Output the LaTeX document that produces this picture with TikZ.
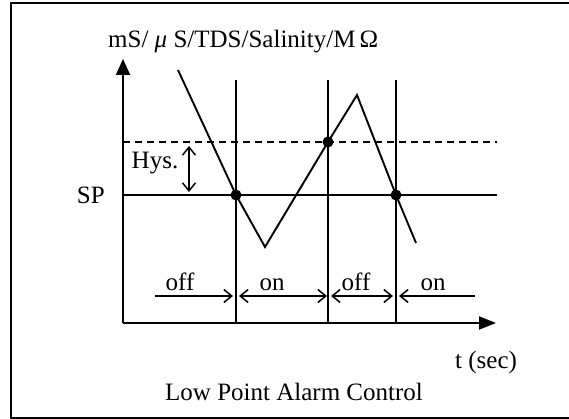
\documentclass[tikz,border=0pt]{standalone}
\usepackage{fontspec}
\setmainfont{Liberation Serif}
\usetikzlibrary{arrows.meta}
\begin{document}
\begin{tikzpicture}[x=1pt,y=-1pt,
  lbl/.style={font=\fontsize{25}{30}\selectfont, inner sep=0pt},
  ln/.style={line width=1.9pt},
  barb/.style={line width=1.5pt, arrows={-{Straight Barb[length=8pt,width=13pt]}}},
  dbarb/.style={line width=1.5pt, arrows={{Straight Barb[length=8pt,width=13pt]}-{Straight Barb[length=8pt,width=13pt]}}},
  lbarb/.style={line width=1.5pt, arrows={{Straight Barb[length=8pt,width=13pt]}-}},
  dot/.style={circle, fill=black, inner sep=0pt, minimum size=11pt}]
\useasboundingbox (0,0) rectangle (569,419);
% frame
\draw[line width=2.2pt] (569,3) -- (11,3) -- (11,418) -- (569,418);
% axes
\coordinate (O) at (123,323);
\coordinate (Ytip) at (123,59);
\coordinate (Xtip) at (496,323);
\draw[ln,-{Triangle[length=16pt,width=14pt]}] (O) -- (Ytip);
\draw[ln,-{Triangle[length=17pt,width=13pt]}] (O) -- (Xtip);
% set point and hysteresis lines
\coordinate (SPl) at (123,195); \coordinate (SPr) at (497,195);
\draw[ln] (SPl) -- (SPr);
\coordinate (Hl) at (123,142); \coordinate (Hr) at (497,142);
\draw[ln, dash pattern=on 7pt off 5pt] (Hl) -- (Hr);
% vertical switching lines
\coordinate (V1t) at (236,80); \coordinate (V1b) at (236,323);
\coordinate (V2t) at (328,80); \coordinate (V2b) at (328,323);
\coordinate (V3t) at (396,80); \coordinate (V3b) at (396,323);
\draw[ln] (V1t) -- (V1b);
\draw[ln] (V2t) -- (V2b);
\draw[ln] (V3t) -- (V3b);
% signal
\coordinate (A) at (178,70);
\coordinate (D1) at (236,195);
\coordinate (M) at (265,247);
\coordinate (D2) at (328,142);
\coordinate (P) at (357,95);
\coordinate (D3) at (396,195);
\coordinate (E) at (416,243);
\draw[ln] (A) -- (D1) -- (M) -- (D2) -- (P) -- (D3) -- (E);
\node[dot] (d1) at (D1) {};
\node[dot] (d2) at (D2) {};
\node[dot] (d3) at (D3) {};
% hysteresis arrow
\coordinate (Ht) at (189,146); \coordinate (Hb) at (189,192);
\draw[dbarb] (Ht) -- (Hb);
% state arrows
\coordinate (S0) at (155,296);
\coordinate (S1) at (236,296);
\coordinate (S2) at (328,296);
\coordinate (S3) at (396,296);
\coordinate (S4) at (475,296);
\draw[barb, shorten >=3pt] (S0) -- (S1);
\draw[dbarb, shorten <=3pt, shorten >=1pt] (S1) -- (S2);
\draw[dbarb, shorten <=3pt, shorten >=3pt] (S2) -- (S3);
\draw[lbarb, shorten <=3pt] (S3) -- (S4);
% labels
\node[lbl, anchor=base west] (ylab) at (108,48) {mS/ \textit{μ} S/TDS/Salinity/M\,Ω};
\node[lbl, anchor=east] (sp) at (105,195) {SP};
\node[lbl] (hys) at (155,163) {Hys.};
\node[lbl, anchor=base] (off1) at (180,290) {off};
\node[lbl, anchor=base] (on1) at (272,290) {on};
\node[lbl, anchor=base] (off2) at (356,290) {off};
\node[lbl, anchor=base] (on2) at (433,290) {on};
\node[lbl, anchor=base west] (tsec) at (455,368) {t (sec)};
\node[lbl, anchor=base west] (title) at (165,400) {Low Point Alarm Control};
\end{tikzpicture}
\end{document}
